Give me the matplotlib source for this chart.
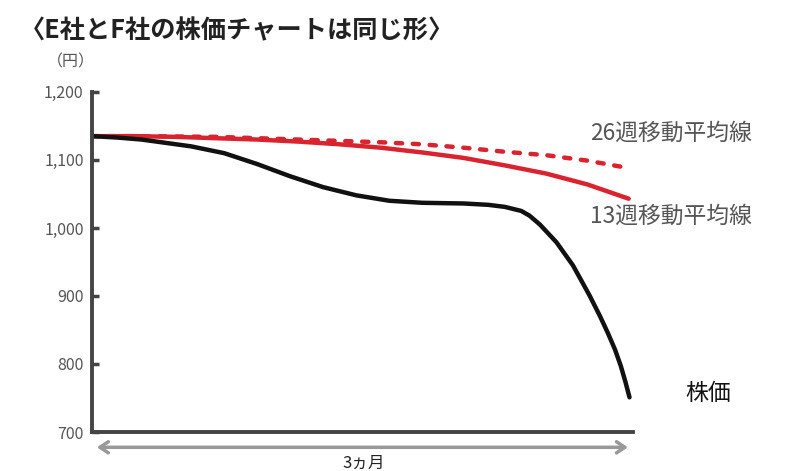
import matplotlib.pyplot as plt

plt.rcParams['font.family'] = ['Noto Sans CJK JP', 'DejaVu Sans']

# 週（3ヵ月 = 13週）
weeks = [0, 0.6, 1.2, 1.8, 2.4, 3.2, 4.0, 4.8, 5.6, 6.4, 7.2, 8.0, 9.0, 9.6,
         10.0, 10.4, 10.6, 10.85, 11.25, 11.65, 12.05, 12.3, 12.5, 12.67,
         12.81, 12.92, 13.02]
price = [1135, 1133, 1130, 1125, 1120, 1110, 1094, 1076, 1060, 1048, 1040,
         1037, 1036, 1034, 1031, 1025, 1018, 1005, 979, 945, 901, 871, 845,
         821, 797, 774, 751]

ma_weeks = [0, 1, 2, 3, 4, 5, 6, 7, 8, 9, 10, 11, 12, 13]
ma13 = [1135, 1135, 1134, 1132, 1130, 1127, 1123, 1118, 1111, 1103, 1092,
        1080, 1064, 1043]
ma26 = [1135, 1135, 1134.5, 1134, 1132, 1130, 1128, 1126, 1123, 1118,
        1112, 1107, 1099, 1088]

yticks = [700, 800, 900, 1000, 1100, 1200]
ytick_labels = ['700', '800', '900', '1,000', '1,100', '1,200']

RED = '#d9232f'
AXIS = '#444444'
TXT = '#555555'

fig = plt.figure(figsize=(8, 4.71), dpi=100)
ax = fig.add_axes([0.115, 0.0828, 0.676, 0.722])

ax.plot(ma_weeks, ma26, color=RED, lw=3.2, ls=(0, (1.4, 2.4)),
        dash_capstyle='round', solid_capstyle='round')
ax.plot(ma_weeks, ma13, color=RED, lw=3.2, solid_capstyle='round',
        solid_joinstyle='round')
ax.plot(weeks, price, color='#111111', lw=3.2, solid_capstyle='round',
        solid_joinstyle='round')

ax.set_xlim(0, 13.1)
ax.set_ylim(700, 1200)
ax.set_yticks(yticks)
ax.set_yticklabels(ytick_labels, color=TXT, fontsize=11.5)
ax.set_xticks([])
ax.tick_params(axis='y', direction='in', length=5, width=2.5, color=AXIS, pad=6)
for s in ['top', 'right']:
    ax.spines[s].set_visible(False)
for s in ['left', 'bottom']:
    ax.spines[s].set_color(AXIS)
    ax.spines[s].set_linewidth(2.8)

# 3ヵ月の矢印
ax.annotate('', xy=(13.05, -0.045), xytext=(0.05, -0.045),
            xycoords=('data', 'axes fraction'), textcoords=('data', 'axes fraction'),
            arrowprops=dict(arrowstyle='<->,head_length=0.6,head_width=0.4',
                            color='#999999', lw=2.5), annotation_clip=False)
fig.text(0.455, 0.017, '3ヵ月', ha='center', va='center', fontsize=12, color='#222222')

fig.text(0.025, 0.935, '〈E社とF社の株価チャートは同じ形〉', fontsize=18.2,
         fontweight='bold', color='#222222', va='center')
fig.text(0.058, 0.868, '（円）', fontsize=11.5, color=TXT, va='center', ha='left')

fig.text(0.737, 0.717, '26週移動平均線', fontsize=16.4, color=TXT, va='center')
fig.text(0.737, 0.541, '13週移動平均線', fontsize=16.4, color=TXT, va='center')
fig.text(0.857, 0.165, '株価', fontsize=16.5, color='#111111', va='center')

fig.savefig('out.png', dpi=100)
